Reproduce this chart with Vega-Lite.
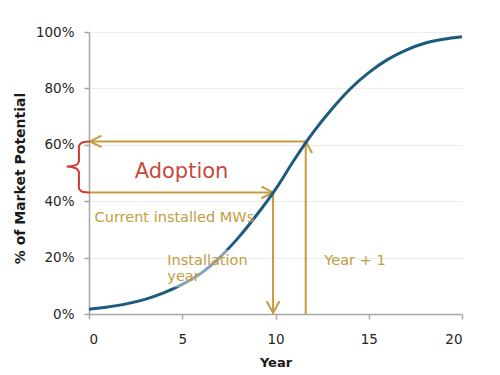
{
  "$schema": "https://vega.github.io/schema/vega-lite/v6.json",
  "width": 373,
  "height": 282,
  "autosize": {"type": "none"},
  "padding": {"left": 89, "top": 32, "right": 38, "bottom": 61},
  "background": "white",
  "config": {"view": {"stroke": null}, "font": "DejaVu Sans"},
  "encoding": {
    "x": {
      "field": "year", "type": "quantitative",
      "scale": {"domain": [0, 20], "nice": false, "zero": false},
      "axis": {
        "title": "Year", "values": [0, 5, 10, 15, 20], "grid": false,
        "domainColor": "#a6a6a6", "domainWidth": 1.5, "tickColor": "#a6a6a6", "tickWidth": 1.5, "tickSize": 5,
        "labelFontSize": 13.5, "labelColor": "#262626", "labelPadding": 13,
        "titleFontSize": 13, "titleFontWeight": "bold", "titleColor": "#1a1a1a", "titleY": 42
      }
    },
    "y": {
      "field": "pct", "type": "quantitative",
      "scale": {"domain": [0, 100], "nice": false, "zero": false},
      "axis": {
        "title": "% of Market Potential", "values": [0, 20, 40, 60, 80, 100],
        "labelExpr": "datum.value + '%'", "grid": true, "gridColor": "#ececec", "gridWidth": 1,
        "domainColor": "#a6a6a6", "domainWidth": 1.5, "tickColor": "#a6a6a6", "tickWidth": 1.5, "tickSize": 5,
        "labelFontSize": 13.5, "labelColor": "#262626", "labelPadding": 10,
        "titleFontSize": 14, "titleFontWeight": "bold", "titleColor": "#1a1a1a", "titleX": -62, "titleY": 146
      }
    }
  },
  "layer": [
    {
      "data": {"values": [
        {"year": 0.05, "pct": 61.2, "year2": 11.62, "pct2": 61.2},
        {"year": 11.62, "pct": 0, "year2": 11.62, "pct2": 61.2},
        {"year": 0.05, "pct": 43.1, "year2": 9.87, "pct2": 43.1},
        {"year": 9.87, "pct": 43.1, "year2": 9.87, "pct2": 0.4}
      ]},
      "mark": {"type": "rule", "color": "#c59b3f", "strokeWidth": 2},
      "encoding": {"x2": {"field": "year2"}, "y2": {"field": "pct2"}}
    },
    {
      "data": {"values": [
        {"year": 0.05, "pct": 61.2, "dir": "left"},
        {"year": 11.62, "pct": 61.2, "dir": "up"},
        {"year": 9.87, "pct": 43.1, "dir": "right"},
        {"year": 9.87, "pct": 0.4, "dir": "down"}
      ]},
      "mark": {"type": "point", "filled": false, "color": "#c59b3f", "strokeWidth": 2, "size": 540, "opacity": 1},
      "encoding": {
        "shape": {
          "field": "dir", "type": "nominal", "legend": null,
          "scale": {
            "domain": ["left", "up", "right", "down"],
            "range": ["M1,-0.5L0,0L1,0.5", "M-0.55,1L0,0L0.55,1", "M-1,-0.5L0,0L-1,0.5", "M-0.55,-1L0,0L0.55,-1"]
          }
        }
      }
    },
    {
      "data": {"values": [
        {"year": 0.05, "pct": 61.2, "ord": 1},
        {"year": -0.32, "pct": 60.9, "ord": 2},
        {"year": -0.54, "pct": 59.7, "ord": 3},
        {"year": -0.54, "pct": 54.0, "ord": 4},
        {"year": -0.7, "pct": 52.8, "ord": 5},
        {"year": -1.2, "pct": 52.3, "ord": 6},
        {"year": -0.7, "pct": 51.7, "ord": 7},
        {"year": -0.54, "pct": 50.4, "ord": 8},
        {"year": -0.54, "pct": 44.4, "ord": 9},
        {"year": -0.32, "pct": 43.3, "ord": 10},
        {"year": 0.05, "pct": 43.1, "ord": 11}
      ]},
      "mark": {"type": "line", "color": "#d03a32", "strokeWidth": 2, "interpolate": "monotone", "clip": false},
      "encoding": {"order": {"field": "ord", "type": "quantitative"}}
    },
    {
      "data": {"values": [
        {"year": 0, "pct": 1.7}, {"year": 1, "pct": 2.5}, {"year": 2, "pct": 3.6},
        {"year": 3, "pct": 5.2}, {"year": 4, "pct": 7.5}, {"year": 5, "pct": 10.5},
        {"year": 6, "pct": 14.4}, {"year": 7, "pct": 20.0}, {"year": 8, "pct": 27.0},
        {"year": 9, "pct": 35.2}, {"year": 10, "pct": 44.2}, {"year": 11, "pct": 54.6},
        {"year": 12, "pct": 64.2}, {"year": 13, "pct": 72.5}, {"year": 14, "pct": 79.8},
        {"year": 15, "pct": 85.6}, {"year": 16, "pct": 90.2}, {"year": 17, "pct": 93.6},
        {"year": 18, "pct": 96.0}, {"year": 19, "pct": 97.4}, {"year": 20, "pct": 98.3}
      ]},
      "mark": {"type": "line", "color": "#1d5a7f", "strokeWidth": 3, "interpolate": "monotone"}
    },
    {
      "data": {"values": [{"year": 4.1, "pct": 9.5, "year2": 8.7, "pct2": 22.7}]},
      "mark": {"type": "rect", "color": "white", "opacity": 0.45},
      "encoding": {"x2": {"field": "year2"}, "y2": {"field": "pct2"}}
    },
    {
      "data": {"values": [
        {"year": 0.3, "pct": 32.6, "label": "Current installed MWs"},
        {"year": 4.2, "pct": 17.4, "label": "Installation\nyear"},
        {"year": 12.62, "pct": 17.4, "label": "Year + 1"}
      ]},
      "mark": {"type": "text", "color": "#c59b3f", "fontSize": 14.5, "align": "left", "baseline": "alphabetic", "lineBreak": "\n", "lineHeight": 16},
      "encoding": {"text": {"field": "label"}}
    },
    {
      "data": {"values": [{"year": 2.45, "pct": 48.3, "label": "Adoption"}]},
      "mark": {"type": "text", "color": "#c44a3c", "fontSize": 21, "align": "left", "baseline": "alphabetic"},
      "encoding": {"text": {"field": "label"}}
    }
  ]
}
